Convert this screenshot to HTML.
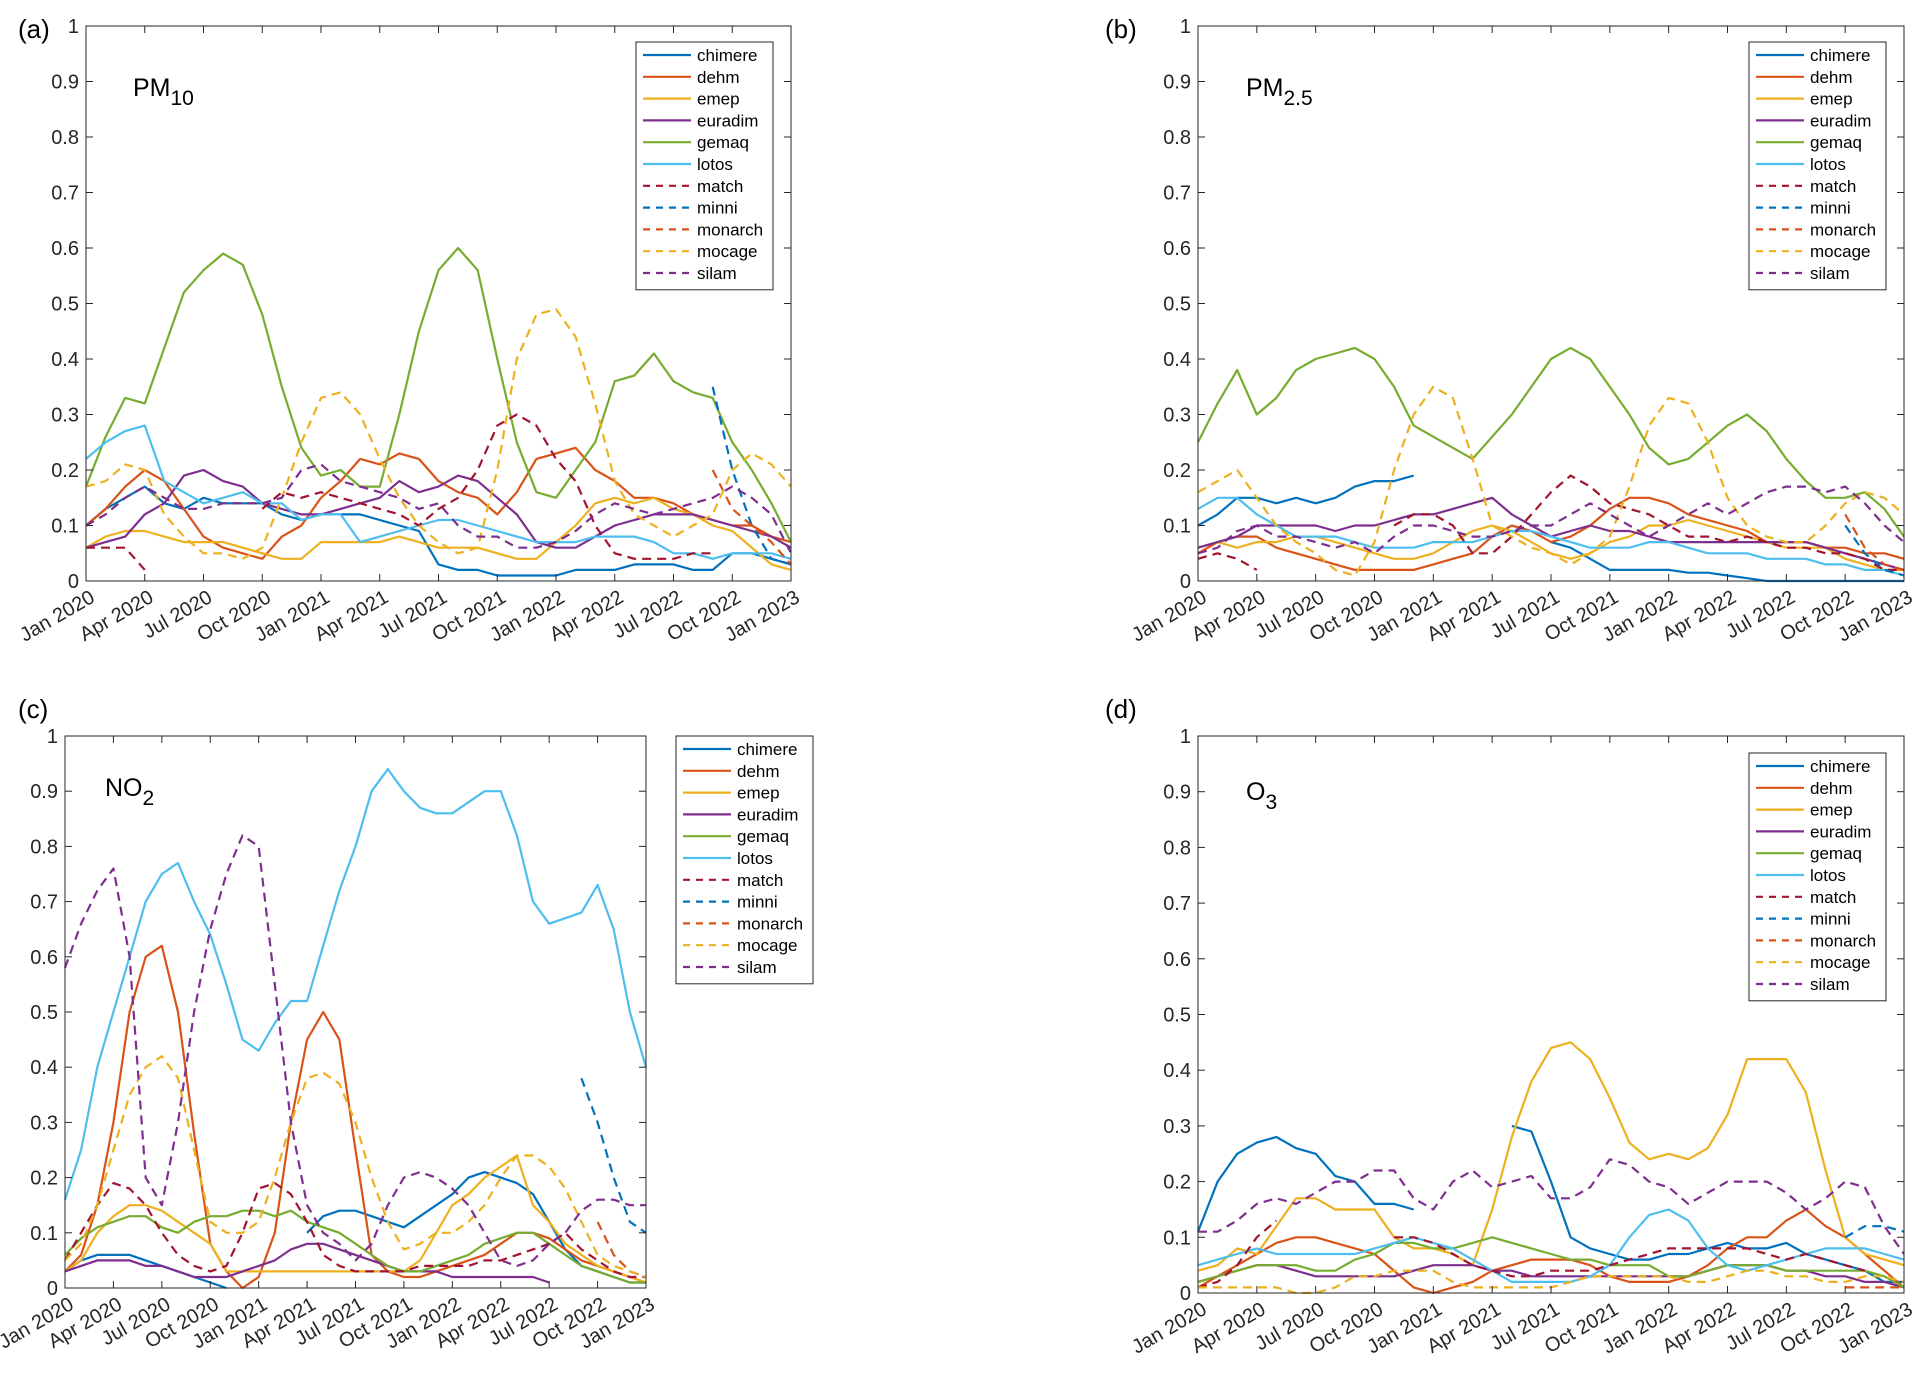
<!DOCTYPE html>
<html><head><meta charset="utf-8">
<style>
html,body{margin:0;padding:0;background:#fff;}
svg{display:block;font-family:"Liberation Sans",Arial,sans-serif;}
</style></head>
<body>
<svg id="fig" width="1930" height="1382" viewBox="0 0 1930 1382" xmlns="http://www.w3.org/2000/svg"></svg>
<script>
const N = null;
const xTickLabels = ["Jan 2020","Apr 2020","Jul 2020","Oct 2020","Jan 2021","Apr 2021","Jul 2021","Oct 2021","Jan 2022","Apr 2022","Jul 2022","Oct 2022","Jan 2023"];
const yTickLabels = ["0","0.1","0.2","0.3","0.4","0.5","0.6","0.7","0.8","0.9","1"];
const yTickValues = [0,0.1,0.2,0.3,0.4,0.5,0.6,0.7,0.8,0.9,1];
const modelNames = ["chimere","dehm","emep","euradim","gemaq","lotos","match","minni","monarch","mocage","silam"];

// PM10 monthly values Jan 2020 .. Jan 2023 (37 points)
const pm10_chimere=[.1,.13,.15,.17,.14,.13,.15,.14,.14,.14,.12,.11,.12,.12,.12,.11,.1,.09,.03,.02,.02,.01,.01,.01,.01,.02,.02,.02,.03,.03,.03,.02,.02,.05,.05,.04,.03];
const pm10_dehm=[.1,.13,.17,.2,.18,.13,.08,.06,.05,.04,.08,.1,.15,.18,.22,.21,.23,.22,.18,.16,.15,.12,.16,.22,.23,.24,.2,.18,.15,.15,.14,.12,.11,.1,.1,.08,.07];
const pm10_emep=[.06,.08,.09,.09,.08,.07,.07,.07,.06,.05,.04,.04,.07,.07,.07,.07,.08,.07,.06,.06,.06,.05,.04,.04,.07,.1,.14,.15,.14,.15,.13,.12,.1,.09,.06,.03,.02];
const pm10_euradim=[.06,.07,.08,.12,.14,.19,.2,.18,.17,.14,.13,.12,.12,.13,.14,.15,.18,.16,.17,.19,.18,.15,.12,.07,.06,.06,.08,.1,.11,.12,.12,.12,.11,.1,.09,.08,.06];
const pm10_gemaq=[.17,.26,.33,.32,.42,.52,.56,.59,.57,.48,.35,.24,.19,.2,.17,.17,.3,.45,.56,.6,.56,.4,.25,.16,.15,.2,.25,.36,.37,.41,.36,.34,.33,.25,.2,.14,.07];
const pm10_lotos=[.22,.25,.27,.28,.18,.16,.14,.15,.16,.14,.14,.11,.12,.12,.07,.08,.09,.1,.11,.11,.1,.09,.08,.07,.07,.07,.08,.08,.08,.07,.05,.05,.04,.05,.05,.05,.04];
const pm10_match=[.06,.06,.06,.02,N,N,N,N,N,.13,.16,.15,.16,.15,.14,.13,.12,.1,.13,.15,.2,.28,.3,.28,.22,.18,.1,.05,.04,.04,.04,.05,.05,N,N,N,N];
const pm10_minni=[N,N,N,N,N,N,N,N,N,N,N,N,N,N,N,N,N,N,N,N,N,N,N,N,N,N,N,N,N,N,N,N,.35,.2,.1,.04,.03];
const pm10_monarch=[N,N,N,N,N,N,N,N,N,N,N,N,N,N,N,N,N,N,N,N,N,N,N,N,N,N,N,N,N,N,N,N,.2,.13,.1,.07,.03];
const pm10_mocage=[.17,.18,.21,.2,.12,.08,.05,.05,.04,.06,.15,.25,.33,.34,.3,.22,.15,.1,.07,.05,.06,.2,.4,.48,.49,.44,.32,.18,.12,.1,.08,.1,.12,.2,.23,.21,.17];
const pm10_silam=[.1,.12,.15,.17,.15,.13,.13,.14,.14,.14,.15,.2,.21,.18,.17,.16,.15,.13,.14,.1,.08,.08,.06,.06,.07,.09,.12,.14,.13,.12,.13,.14,.15,.17,.15,.12,.05];

// PM2.5
const pm25_chimere=[.1,.12,.15,.15,.14,.15,.14,.15,.17,.18,.18,.19,N,N,N,N,N,N,.07,.06,.04,.02,.02,.02,.02,.015,.015,.01,.005,0,0,0,0,0,0,0,0];
const pm25_dehm=[.05,.07,.08,.08,.06,.05,.04,.03,.02,.02,.02,.02,.03,.04,.05,.08,.1,.09,.07,.08,.1,.13,.15,.15,.14,.12,.11,.1,.09,.07,.07,.07,.06,.06,.05,.05,.04];
const pm25_emep=[.06,.07,.06,.07,.07,.08,.08,.07,.06,.05,.04,.04,.05,.07,.09,.1,.09,.07,.05,.04,.05,.07,.08,.1,.1,.11,.1,.09,.08,.07,.06,.06,.06,.04,.03,.02,.02];
const pm25_euradim=[.06,.07,.08,.1,.1,.1,.1,.09,.1,.1,.11,.12,.12,.13,.14,.15,.12,.1,.08,.09,.1,.09,.09,.08,.07,.07,.07,.07,.07,.07,.07,.07,.06,.05,.04,.03,.02];
const pm25_gemaq=[.25,.32,.38,.3,.33,.38,.4,.41,.42,.4,.35,.28,.26,.24,.22,.26,.3,.35,.4,.42,.4,.35,.3,.24,.21,.22,.25,.28,.3,.27,.22,.18,.15,.15,.16,.13,.08];
const pm25_lotos=[.13,.15,.15,.12,.1,.08,.08,.08,.07,.06,.06,.06,.07,.07,.07,.08,.09,.09,.08,.07,.06,.06,.06,.07,.07,.06,.05,.05,.05,.04,.04,.04,.03,.03,.02,.02,.01];
const pm25_match=[.04,.05,.04,.02,N,N,N,N,N,N,.1,.12,.12,.1,.05,.05,.08,.12,.16,.19,.17,.14,.13,.12,.1,.08,.08,.07,.08,.07,.06,.06,.05,.05,.04,.02,.02];
const pm25_minni=[N,N,N,N,N,N,N,N,N,N,N,N,N,N,N,N,N,N,N,N,N,N,N,N,N,N,N,N,N,N,N,N,N,.1,.05,.02,.01];
const pm25_monarch=[N,N,N,N,N,N,N,N,N,N,N,N,N,N,N,N,N,N,N,N,N,N,N,N,N,N,N,N,N,N,N,N,N,.12,.06,.03,.02];
const pm25_mocage=[.16,.18,.2,.15,.1,.07,.05,.02,.01,.07,.2,.3,.35,.33,.22,.1,.08,.06,.05,.03,.05,.08,.17,.28,.33,.32,.25,.15,.1,.08,.07,.07,.1,.14,.16,.15,.12];
const pm25_silam=[.05,.06,.09,.1,.08,.08,.07,.06,.07,.05,.08,.1,.1,.09,.08,.08,.09,.1,.1,.12,.14,.12,.1,.08,.1,.12,.14,.12,.14,.16,.17,.17,.16,.17,.14,.1,.07];

// NO2
const no2_chimere=[.03,.05,.06,.06,.06,.05,.04,.03,.02,.01,0,N,N,N,N,.1,.13,.14,.14,.13,.12,.11,.13,.15,.17,.2,.21,.2,.19,.17,.12,.07,.04,.03,.02,.01,.01];
const no2_dehm=[.03,.06,.15,.3,.5,.6,.62,.5,.28,.08,.03,0,.02,.1,.3,.45,.5,.45,.25,.06,.03,.02,.02,.03,.04,.05,.06,.08,.1,.1,.09,.07,.05,.04,.03,.02,.01];
const no2_emep=[.03,.05,.1,.13,.15,.15,.14,.12,.1,.08,.03,.03,.03,.03,.03,.03,.03,.03,.03,.03,.03,.03,.05,.1,.15,.17,.2,.22,.24,.15,.12,.08,.06,.04,.03,.02,.01];
const no2_euradim=[.03,.04,.05,.05,.05,.04,.04,.03,.02,.02,.02,.03,.04,.05,.07,.08,.08,.07,.06,.05,.04,.03,.03,.03,.02,.02,.02,.02,.02,.02,.01,N,N,N,N,N,N];
const no2_gemaq=[.06,.09,.11,.12,.13,.13,.11,.1,.12,.13,.13,.14,.14,.13,.14,.12,.11,.1,.08,.06,.04,.03,.03,.04,.05,.06,.08,.09,.1,.1,.08,.06,.04,.03,.02,.01,.01];
const no2_lotos=[.16,.25,.4,.5,.6,.7,.75,.77,.7,.64,.55,.45,.43,.48,.52,.52,.62,.72,.8,.9,.94,.9,.87,.86,.86,.88,.9,.9,.82,.7,.66,.67,.68,.73,.65,.5,.4];
const no2_match=[.05,.1,.15,.19,.18,.15,.1,.06,.04,.03,.04,.1,.18,.19,.17,.12,.06,.04,.03,.03,.03,.03,.04,.04,.04,.04,.05,.05,.06,.07,.08,.1,.07,.05,.03,.02,.02];
const no2_minni=[N,N,N,N,N,N,N,N,N,N,N,N,N,N,N,N,N,N,N,N,N,N,N,N,N,N,N,N,N,N,N,N,.38,.3,.2,.12,.1];
const no2_monarch=[N,N,N,N,N,N,N,N,N,N,N,N,N,N,N,N,N,N,N,N,N,N,N,N,N,N,N,N,N,N,N,N,N,.12,.06,.03,.02];
const no2_mocage=[.05,.08,.15,.25,.35,.4,.42,.38,.25,.12,.1,.1,.12,.2,.3,.38,.39,.37,.3,.2,.12,.07,.08,.1,.1,.12,.15,.2,.24,.24,.22,.18,.12,.06,.04,.03,.02];
const no2_silam=[.58,.66,.72,.76,.6,.2,.15,.3,.5,.65,.75,.82,.8,.55,.3,.15,.1,.08,.05,.08,.15,.2,.21,.2,.18,.15,.1,.05,.04,.05,.08,.1,.14,.16,.16,.15,.15];

// O3
const o3_chimere=[.11,.2,.25,.27,.28,.26,.25,.21,.2,.16,.16,.15,N,N,N,N,.3,.29,.2,.1,.08,.07,.06,.06,.07,.07,.08,.09,.08,.08,.09,.07,.06,.05,.04,.02,.02];
const o3_dehm=[.01,.03,.05,.07,.09,.1,.1,.09,.08,.07,.04,.01,0,.01,.02,.04,.05,.06,.06,.06,.05,.03,.02,.02,.02,.03,.05,.08,.1,.1,.13,.15,.12,.1,.07,.04,.01];
const o3_emep=[.04,.05,.08,.07,.12,.17,.17,.15,.15,.15,.1,.08,.08,.07,.05,.15,.28,.38,.44,.45,.42,.35,.27,.24,.25,.24,.26,.32,.42,.42,.42,.36,.22,.1,.07,.06,.05];
const o3_euradim=[.02,.03,.04,.05,.05,.04,.03,.03,.03,.03,.03,.04,.05,.05,.05,.04,.04,.03,.03,.03,.03,.03,.03,.03,.03,.03,.04,.05,.05,.05,.04,.04,.03,.03,.02,.02,.01];
const o3_gemaq=[.02,.03,.04,.05,.05,.05,.04,.04,.06,.07,.09,.09,.08,.08,.09,.1,.09,.08,.07,.06,.06,.05,.05,.05,.03,.03,.04,.05,.05,.05,.04,.04,.04,.04,.04,.03,.01];
const o3_lotos=[.05,.06,.07,.08,.07,.07,.07,.07,.07,.08,.09,.1,.09,.08,.06,.04,.02,.02,.02,.02,.03,.05,.1,.14,.15,.13,.08,.05,.04,.05,.06,.07,.08,.08,.08,.07,.06];
const o3_match=[.01,.02,.05,.1,.13,N,N,N,N,N,.1,.1,.09,.07,.05,.04,.03,.03,.04,.04,.04,.05,.06,.07,.08,.08,.08,.08,.08,.07,.06,.07,.06,.05,.04,N,N];
const o3_minni=[N,N,N,N,N,N,N,N,N,N,N,N,N,N,N,N,N,N,N,N,N,N,N,N,N,N,N,N,N,N,N,N,N,.1,.12,.12,.11];
const o3_monarch=[N,N,N,N,N,N,N,N,N,N,N,N,N,N,N,N,N,N,N,N,N,N,N,N,N,N,N,N,N,N,N,N,N,.01,.01,.01,.01];
const o3_mocage=[.01,.01,.01,.01,.01,0,0,.01,.03,.03,.04,.04,.04,.02,.01,.01,.01,.01,.01,.02,.03,.03,.03,.03,.03,.02,.02,.03,.04,.04,.03,.03,.02,.02,.03,.03,.02];
const o3_silam=[.11,.11,.13,.16,.17,.16,.18,.2,.2,.22,.22,.17,.15,.2,.22,.19,.2,.21,.17,.17,.19,.24,.23,.2,.19,.16,.18,.2,.2,.2,.18,.15,.17,.2,.19,.12,.07];

const colors=["#0072BD","#D95319","#EDB120","#7E2F8E","#77AC30","#4DBEEE","#A2142F","#0072BD","#D95319","#EDB120","#7E2F8E"];
const dashed=[false,false,false,false,false,false,true,true,true,true,true];

const panels=[
 {id:"a",sp:"PM",sub:"10",x0:86,x1:791,y0:26,y1:581,lx:636,ly:42,lw:137,series:[pm10_chimere,pm10_dehm,pm10_emep,pm10_euradim,pm10_gemaq,pm10_lotos,pm10_match,pm10_minni,pm10_monarch,pm10_mocage,pm10_silam],lab:[18,38],spPos:[133,96]},
 {id:"b",sp:"PM",sub:"2.5",x0:1198,x1:1904,y0:26,y1:581,lx:1749,ly:42,lw:137,series:[pm25_chimere,pm25_dehm,pm25_emep,pm25_euradim,pm25_gemaq,pm25_lotos,pm25_match,pm25_minni,pm25_monarch,pm25_mocage,pm25_silam],lab:[1105,38],spPos:[1246,96]},
 {id:"c",sp:"NO",sub:"2",x0:65,x1:646,y0:736,y1:1288,lx:676,ly:736,lw:137,series:[no2_chimere,no2_dehm,no2_emep,no2_euradim,no2_gemaq,no2_lotos,no2_match,no2_minni,no2_monarch,no2_mocage,no2_silam],lab:[18,718],spPos:[105,796]},
 {id:"d",sp:"O",sub:"3",x0:1198,x1:1904,y0:736,y1:1293,lx:1749,ly:753,lw:137,series:[o3_chimere,o3_dehm,o3_emep,o3_euradim,o3_gemaq,o3_lotos,o3_match,o3_minni,o3_monarch,o3_mocage,o3_silam],lab:[1105,718],spPos:[1246,800]}
];
const NS="http://www.w3.org/2000/svg";
const svg=document.getElementById("fig");
function mk(tag,attrs,parent){const e=document.createElementNS(NS,tag);for(const k in attrs)e.setAttribute(k,attrs[k]);(parent||svg).appendChild(e);return e;}

panels.forEach(p=>{
  const g=mk("g",{});
  
  
  const xs=m=>p.x0+(p.x1-p.x0)*m/36;
  const ys=v=>p.y1-(p.y1-p.y0)*v;
  const pl=mk("text",{x:p.lab[0],y:p.lab[1],"font-size":26,fill:"#000"},g);
  pl.textContent="("+p.id+")";
  
  
  p.series.forEach((vals,si)=>{
    let d="",pen=false;
    vals.forEach((v,i)=>{
      if(v===null){pen=false;return;}
      d+=(pen?"L":"M")+xs(i).toFixed(1)+" "+ys(v).toFixed(1)+" ";pen=true;
    });
    const path=mk("path",{d:d,fill:"none",stroke:colors[si],"stroke-width":2.2,"stroke-linejoin":"round","stroke-dasharray":dashed[si]?"9 6":"none"},g);
    
    
  });
  const box=mk("rect",{x:p.x0,y:p.y0,width:p.x1-p.x0,height:p.y1-p.y0,fill:"none",stroke:"#262626","stroke-width":1},g);
  
  
  yTickValues.forEach((v,i)=>{
    const y=ys(v);
    mk("line",{x1:p.x0,x2:p.x0+7,y1:y,y2:y,stroke:"#262626"},g);
    mk("line",{x1:p.x1,x2:p.x1-7,y1:y,y2:y,stroke:"#262626"},g);
    const t=mk("text",{x:p.x0-7,y:y+7,"font-size":20,"text-anchor":"end",fill:"#262626"},g);
    t.textContent=yTickLabels[i];
    
    
  });
  xTickLabels.forEach((lab,i)=>{
    const x=xs(i*3);
    mk("line",{x1:x,x2:x,y1:p.y1,y2:p.y1-7,stroke:"#262626"},g);
    mk("line",{x1:x,x2:x,y1:p.y0,y2:p.y0+7,stroke:"#262626"},g);
    const t=mk("text",{x:x+10,y:p.y1+20,"font-size":20,"text-anchor":"end",fill:"#262626",transform:`rotate(-30 ${x+10} ${p.y1+20})`},g);
    t.textContent=lab;
    
    
  });
  const st=mk("text",{x:p.spPos[0],y:p.spPos[1],"font-size":25,fill:"#000"},g);
  
  
  const t1=mk("tspan",{},st);t1.textContent=p.sp;
  const t2=mk("tspan",{dy:9,"font-size":21},st);t2.textContent=p.sub;
  const lg=mk("g",{},g);
  
  
  const rowH=21.8, lh=rowH*11+8;
  mk("rect",{x:p.lx,y:p.ly,width:p.lw,height:lh,fill:"#fff",stroke:"#262626","stroke-width":1},lg);
  modelNames.forEach((nm,si)=>{
    const y=p.ly+13+si*rowH;
    const ent=mk("g",{},lg);
    
    
    mk("line",{x1:p.lx+7,x2:p.lx+55,y1:y,y2:y,stroke:colors[si],"stroke-width":2.2,"stroke-dasharray":dashed[si]?"7 6":"none"},ent);
    const t=mk("text",{x:p.lx+61,y:y+6,"font-size":17,fill:"#000"},ent);
    t.textContent=nm;
  });
});
</script>
</body></html>
